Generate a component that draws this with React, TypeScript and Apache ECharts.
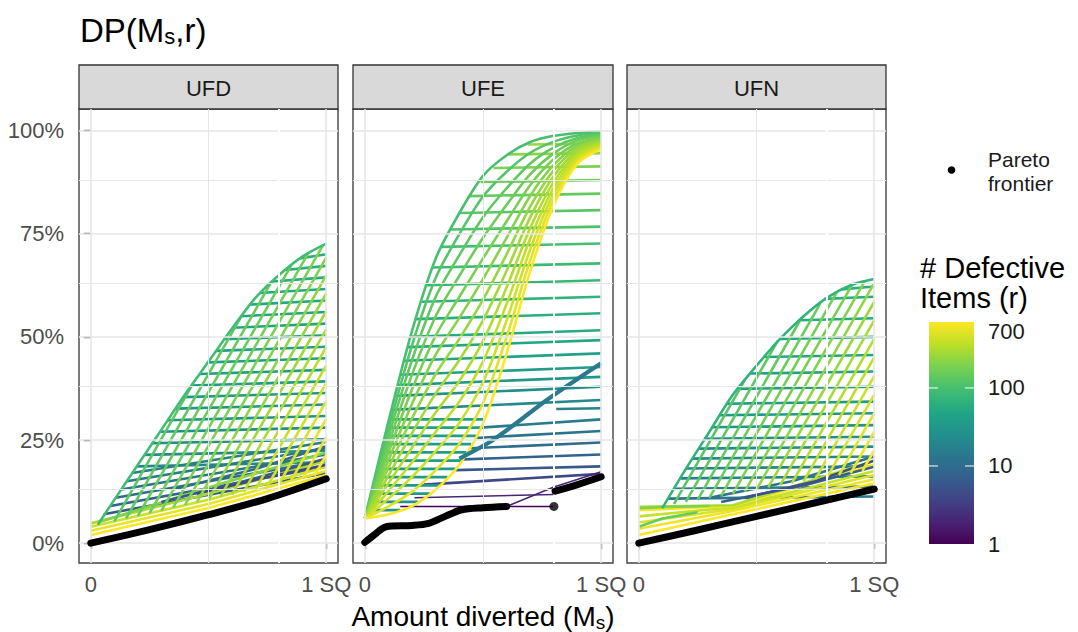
import React, { useEffect, useRef } from 'react';
import * as echarts from 'echarts';

const FONT = '"Liberation Sans", Arial, Helvetica, sans-serif';

// ---------- data ----------
const facets = ['UFD', 'UFE', 'UFN'];
const xTickValues = [0, 1];
const xTickLabels = ['0', '1 SQ'];
const yTickValues = [0, 0.25, 0.5, 0.75, 1];
const yMinorValues = [0.125, 0.375, 0.625, 0.875];
const xMinorValues = [0.5];
const legendBreaks = [1, 10, 100, 700];
const gapX = 0.8;

// UFE: diagonal curves sampled at these x
const ufeCurveX = [0, 0.1, 0.2, 0.3, 0.4, 0.5, 0.6, 0.7, 0.8, 0.9, 1];
const ufeCurveR = [100, 118, 138, 160, 185, 212, 245, 280, 320, 370, 430, 520, 700];
const ufeCurves = [
  [0.06, 0.295, 0.515, 0.69, 0.80, 0.89, 0.94, 0.972, 0.987, 0.994, 0.997],
  [0.06, 0.276, 0.48, 0.643, 0.749, 0.84, 0.90, 0.946, 0.973, 0.988, 0.994],
  [0.06, 0.258, 0.444, 0.597, 0.698, 0.79, 0.86, 0.92, 0.959, 0.982, 0.99],
  [0.06, 0.239, 0.409, 0.55, 0.648, 0.74, 0.82, 0.894, 0.945, 0.976, 0.987],
  [0.06, 0.22, 0.373, 0.503, 0.597, 0.69, 0.78, 0.868, 0.931, 0.969, 0.983],
  [0.06, 0.201, 0.338, 0.457, 0.546, 0.64, 0.74, 0.842, 0.917, 0.963, 0.98],
  [0.06, 0.183, 0.303, 0.41, 0.495, 0.59, 0.70, 0.816, 0.904, 0.957, 0.976],
  [0.06, 0.164, 0.267, 0.363, 0.444, 0.54, 0.66, 0.79, 0.89, 0.951, 0.973],
  [0.06, 0.145, 0.232, 0.317, 0.393, 0.49, 0.62, 0.764, 0.876, 0.945, 0.969],
  [0.06, 0.126, 0.196, 0.27, 0.343, 0.44, 0.58, 0.738, 0.862, 0.939, 0.966],
  [0.06, 0.108, 0.161, 0.223, 0.292, 0.39, 0.54, 0.712, 0.848, 0.932, 0.962],
  [0.06, 0.089, 0.125, 0.177, 0.241, 0.34, 0.50, 0.686, 0.834, 0.926, 0.959],
  [0.06, 0.07, 0.09, 0.13, 0.19, 0.29, 0.46, 0.66, 0.82, 0.92, 0.955],
];
// flat lines: [x0, y0, x1, y1, r]
const ufeFlats = [
  [0.69, 0.966, 1, 0.968, 250], [0.61, 0.942, 1, 0.945, 220], [0.545, 0.909, 1, 0.913, 190],
  [0.49, 0.875, 1, 0.88, 165], [0.44, 0.841, 1, 0.847, 145], [0.40, 0.80, 1, 0.807, 125],
  [0.364, 0.76, 1, 0.767, 110], [0.325, 0.718, 1, 0.726, 97], [0.287, 0.668, 1, 0.678, 86],
  [0.263, 0.625, 1, 0.637, 77], [0.24, 0.585, 1, 0.597, 69], [0.216, 0.543, 1, 0.557, 62],
  [0.193, 0.50, 1, 0.516, 55], [0.182, 0.475, 1, 0.492, 49], [0.167, 0.442, 1, 0.46, 43],
  [0.152, 0.408, 1, 0.427, 37], [0.14, 0.383, 1, 0.403, 31], [0.128, 0.357, 1, 0.379, 26],
  [0.112, 0.323, 1, 0.347, 21], [0.81, 0.325, 1, 0.327, 18],
  [0.49, 0.28, 1, 0.30, 15], [0.47, 0.255, 1, 0.272, 12], [0.445, 0.23, 1, 0.244, 10],
  [0.415, 0.203, 1, 0.215, 8], [0.385, 0.177, 1, 0.186, 6], [0.25, 0.142, 1, 0.168, 4],
  [0.21, 0.11, 0.8, 0.118, 2], [0.15, 0.089, 0.8, 0.089, 1],
  [0.009, 0.08, 0.15, 0.08, 30], [0.017, 0.10, 0.225, 0.10, 30], [0.026, 0.12, 0.275, 0.12, 32],
  [0.034, 0.14, 0.317, 0.14, 32], [0.043, 0.16, 0.35, 0.16, 34], [0.051, 0.18, 0.383, 0.18, 34],
  [0.06, 0.20, 0.41, 0.20, 36], [0.068, 0.22, 0.43, 0.22, 36], [0.077, 0.24, 0.45, 0.24, 38],
  [0.085, 0.26, 0.47, 0.26, 38], [0.094, 0.28, 0.49, 0.28, 40], [0.102, 0.30, 0.506, 0.30, 40],
];
const ufeThick = [[0.4, 0.205], [0.52, 0.242], [0.62, 0.282], [0.77, 0.347], [0.9, 0.398], [1, 0.436]];
const ufeThickR = 14;
const ufeRising = [[0.6, 0.089], [0.8, 0.136], [1, 0.173]];
const ufeRisingR = 2;
const ufePareto = [[0, 0.002], [0.04, 0.02], [0.09, 0.04], [0.2, 0.043], [0.27, 0.048], [0.34, 0.065], [0.41, 0.081], [0.5, 0.086], [0.6, 0.089]];
const ufeParetoTail = [[0.805, 0.126], [0.9, 0.142], [1, 0.161]];
const ufeParetoDot = [[0.8, 0.089]];

// UFD
const ufdTop = [[0.03, 0.045], [0.1, 0.105], [0.2, 0.19], [0.3, 0.275], [0.4, 0.36], [0.5, 0.44], [0.6, 0.52], [0.7, 0.595], [0.8, 0.65], [0.9, 0.695], [1, 0.726]];
const ufdTopR = 90;
const ufdSlants = [
  [0.10, 0.053, 0.435, 0.388, 130], [0.15, 0.06, 0.64, 0.55, 140], [0.20, 0.066, 0.764, 0.63, 150],
  [0.25, 0.073, 0.85, 0.672, 160], [0.30, 0.079, 0.923, 0.702, 175], [0.35, 0.086, 0.986, 0.7215, 190],
  [0.40, 0.092, 1, 0.692, 205], [0.45, 0.099, 1, 0.649, 225], [0.50, 0.105, 1, 0.605, 245],
  [0.55, 0.112, 1, 0.562, 270], [0.60, 0.118, 1, 0.518, 300], [0.65, 0.125, 1, 0.475, 340],
  [0.70, 0.131, 1, 0.431, 380], [0.75, 0.138, 1, 0.388, 430], [0.80, 0.144, 1, 0.344, 480],
  [0.85, 0.151, 1, 0.301, 540], [0.90, 0.157, 1, 0.257, 610], [0.95, 0.164, 1, 0.214, 700],
];
const ufdFlats = [
  [0.889, 0.69, 1, 0.70, 60], [0.827, 0.662, 1, 0.672, 57], [0.771, 0.634, 1, 0.644, 54],
  [0.715, 0.606, 1, 0.616, 51], [0.677, 0.578, 1, 0.588, 48], [0.637, 0.55, 1, 0.56, 46],
  [0.602, 0.522, 1, 0.532, 44], [0.568, 0.494, 1, 0.504, 42], [0.533, 0.466, 1, 0.476, 40],
  [0.498, 0.438, 1, 0.448, 38], [0.463, 0.41, 1, 0.42, 36], [0.428, 0.382, 1, 0.392, 34],
  [0.393, 0.354, 1, 0.364, 32], [0.36, 0.326, 1, 0.336, 30], [0.327, 0.298, 1, 0.308, 28],
  [0.294, 0.27, 1, 0.28, 26], [0.261, 0.242, 1, 0.252, 24], [0.228, 0.214, 1, 0.224, 22],
  [0.195, 0.186, 1, 0.196, 20],
  [0.176, 0.17, 1, 0.245, 16], [0.153, 0.15, 1, 0.23, 14], [0.129, 0.13, 1, 0.215, 12],
  [0.106, 0.11, 1, 0.20, 10], [0.083, 0.09, 1, 0.185, 8], [0.055, 0.07, 1, 0.17, 6],
];
const ufdBottom = [
  { r: 700, pts: [[0, 0.02], [0.5, 0.085], [1, 0.165]] },
  { r: 550, pts: [[0, 0.03], [0.5, 0.095], [1, 0.175]] },
  { r: 420, pts: [[0, 0.04], [0.5, 0.105], [1, 0.185]] },
  { r: 300, pts: [[0, 0.048], [0.5, 0.12], [1, 0.2]] },
  { r: 200, pts: [[0.03, 0.05], [0.5, 0.135], [1, 0.22]] },
  { r: 6, pts: [[0.3, 0.1], [0.65, 0.15], [1, 0.205]] },
  { r: 4, pts: [[0.45, 0.12], [0.75, 0.16], [1, 0.19]] },
  { r: 10, pts: [[0.35, 0.13], [0.7, 0.18], [1, 0.235]] },
];
const ufdPareto = [[0, 0], [0.25, 0.033], [0.5, 0.069], [0.75, 0.108], [1, 0.156]];

// UFN
const ufnTop = [[0.1, 0.085], [0.2, 0.18], [0.3, 0.27], [0.4, 0.36], [0.5, 0.43], [0.6, 0.495], [0.7, 0.55], [0.8, 0.595], [0.9, 0.625], [1, 0.64]];
const ufnTopR = 70;
const ufnSlants = [
  [0.15, 0.095, 0.45, 0.395, 120], [0.20, 0.10, 0.59, 0.49, 130], [0.25, 0.105, 0.69, 0.545, 140],
  [0.30, 0.11, 0.77, 0.58, 155], [0.35, 0.115, 0.84, 0.607, 170], [0.40, 0.12, 0.91, 0.63, 185],
  [0.45, 0.125, 0.96, 0.635, 205], [0.50, 0.13, 1, 0.63, 230], [0.55, 0.135, 1, 0.585, 260],
  [0.60, 0.14, 1, 0.54, 290], [0.65, 0.145, 1, 0.495, 330], [0.70, 0.15, 1, 0.45, 370],
  [0.75, 0.155, 1, 0.405, 420], [0.80, 0.16, 1, 0.36, 470], [0.85, 0.165, 1, 0.315, 530],
  [0.90, 0.17, 1, 0.27, 600], [0.95, 0.175, 1, 0.225, 700],
];
const ufnFlats = [
  [0.86, 0.615, 1, 0.622, 62], [0.79, 0.592, 1, 0.597, 58], [0.68, 0.54, 1, 0.545, 54],
  [0.60, 0.495, 1, 0.50, 50], [0.53, 0.451, 1, 0.456, 46], [0.47, 0.411, 1, 0.416, 42],
  [0.42, 0.374, 1, 0.379, 38], [0.375, 0.338, 1, 0.343, 35], [0.345, 0.31, 1, 0.315, 32],
  [0.312, 0.281, 1, 0.286, 29], [0.28, 0.253, 1, 0.258, 26], [0.255, 0.229, 1, 0.234, 23],
  [0.226, 0.205, 1, 0.21, 21], [0.20, 0.181, 1, 0.186, 19], [0.176, 0.157, 1, 0.162, 17],
  [0.15, 0.132, 1, 0.137, 15], [0.124, 0.108, 1, 0.113, 13],
];
const ufnBottom = [
  { r: 700, pts: [[0, 0.02], [0.4, 0.07], [1, 0.145]] },
  { r: 600, pts: [[0, 0.035], [0.4, 0.078], [1, 0.155]] },
  { r: 500, pts: [[0, 0.05], [0.4, 0.083], [1, 0.165]] },
  { r: 400, pts: [[0, 0.065], [0.4, 0.087], [1, 0.175]] },
  { r: 650, pts: [[0, 0.08], [0.4, 0.09], [1, 0.19]] },
  { r: 300, pts: [[0, 0.088], [0.4, 0.092], [1, 0.2]] },
  { r: 200, pts: [[0, 0.085], [0.12, 0.088], [0.3, 0.09]] },
  { r: 150, pts: [[0, 0.04], [0.1, 0.06], [0.25, 0.075]] },
  { r: 8, pts: [[0.35, 0.1], [0.7, 0.14], [1, 0.185]] },
  { r: 5, pts: [[0.45, 0.11], [0.75, 0.15], [1, 0.2]] },
  { r: 12, pts: [[0.3, 0.11], [0.65, 0.15], [1, 0.21]] },
];
const ufnPareto = [[0, 0], [0.25, 0.032], [0.5, 0.065], [0.75, 0.098], [1, 0.131]];

// ---------- styling helpers ----------
const VIRIDIS = ['#440154', '#482475', '#414487', '#355f8d', '#2a788e', '#21918c', '#22a884', '#44bf70', '#7ad151', '#bddf26', '#fde725'];
function hexRgb(h: string) {
  return [parseInt(h.slice(1, 3), 16), parseInt(h.slice(3, 5), 16), parseInt(h.slice(5, 7), 16)];
}
function viridis(t: number) {
  const c = Math.max(0, Math.min(1, t)) * (VIRIDIS.length - 1);
  const i = Math.min(Math.floor(c), VIRIDIS.length - 2);
  const f = c - i;
  const a = hexRgb(VIRIDIS[i]);
  const b = hexRgb(VIRIDIS[i + 1]);
  return 'rgb(' + a.map((v, k) => Math.round(v + (b[k] - v) * f)).join(',') + ')';
}
const rColor = (r: number) => viridis(Math.log(r) / Math.log(700));

const GRIDS = [
  { left: 79, top: 109, width: 259, height: 454 },
  { left: 353, top: 109, width: 260, height: 454 },
  { left: 627, top: 109, width: 259, height: 454 },
];
const STRIP_TOP = 65;
const STRIP_H = 44;
const LW = 2.6;

function buildOption() {
  const series: any[] = [];
  const add = (g: number, pts: number[][], color: string, width: number, z: number, smooth: any = false) => {
    series.push({
      type: 'line', xAxisIndex: g, yAxisIndex: g, data: pts, symbol: 'none', showSymbol: false,
      smooth, silent: true, z, animation: false, emphasis: { disabled: true },
      lineStyle: { color, width, cap: 'butt', join: 'round' },
    });
  };
  const addSeg = (g: number, seg: number[], width: number, z: number) =>
    add(g, [[seg[0], seg[1]], [seg[2], seg[3]]], rColor(seg[4]), width, z);

  facets.forEach((_, g) => {
    const mk = (axis: 'xAxis' | 'yAxis', v: number, w: number) => ({ [axis]: v, lineStyle: { width: w, color: '#e6e6e6', type: 'solid' } });
    series.push({
      type: 'line', xAxisIndex: g, yAxisIndex: g, data: [], z: 1, silent: true,
      markLine: {
        silent: true, symbol: ['none', 'none'], label: { show: false }, animation: false,
        lineStyle: { type: 'solid', color: '#e6e6e6' },
        data: [
          ...xTickValues.map((v) => mk('xAxis', v, 1.6)),
          ...xMinorValues.map((v) => mk('xAxis', v, 1)),
          ...yTickValues.map((v) => mk('yAxis', v, 1.6)),
          ...yMinorValues.map((v) => mk('yAxis', v, 1)),
        ],
      },
    });
    series.push({
      type: 'line', xAxisIndex: g, yAxisIndex: g, data: [], z: 4, silent: true,
      markLine: {
        silent: true, symbol: ['none', 'none'], label: { show: false }, animation: false,
        data: [{ xAxis: gapX, lineStyle: { type: 'solid', color: '#ffffff', width: 2 } }],
      },
    });
  });

  // UFD (g=0)
  ufdFlats.forEach((s) => addSeg(0, s, LW, 2));
  ufdBottom.forEach((b) => add(0, b.pts, rColor(b.r), LW, 2));
  ufdSlants.forEach((s) => addSeg(0, s, LW, 3));
  add(0, ufdTop, rColor(ufdTopR), LW, 3, 0.3);
  add(0, ufdPareto, '#000', 7, 5, 0.3);

  // UFE (g=1)
  ufeFlats.forEach((s) => addSeg(1, s, s[4] <= 2 ? 1.5 : LW, 2));
  ufeCurves.forEach((ys, i) => add(1, ys.map((y, k) => [ufeCurveX[k], y]), rColor(ufeCurveR[i]), LW, 3, 0.3));
  add(1, ufeThick, rColor(ufeThickR), 4.2, 3, 0.3);
  add(1, ufeRising, rColor(ufeRisingR), 1.5, 3);
  add(1, ufePareto, '#000', 7, 5, 0.3);
  add(1, ufeParetoTail, '#000', 7, 5, 0.3);
  series.push({
    type: 'scatter', xAxisIndex: 1, yAxisIndex: 1, data: ufeParetoDot, symbolSize: 9, silent: true, z: 5,
    itemStyle: { color: '#000' }, animation: false,
  });

  // UFN (g=2)
  ufnFlats.forEach((s) => addSeg(2, s, LW, 2));
  ufnBottom.forEach((b) => add(2, b.pts, rColor(b.r), LW, 2));
  ufnSlants.forEach((s) => addSeg(2, s, LW, 3));
  add(2, ufnTop, rColor(ufnTopR), LW, 3, 0.3);
  add(2, ufnPareto, '#000', 7, 5, 0.3);

  series.forEach((s) => {
    if (s.type === 'line' && s.lineStyle && s.lineStyle.color === '#000') s.lineStyle.cap = 'round';
  });

  const xAxis = facets.map((_, g) => ({
    type: 'value', gridIndex: g, min: -0.05, max: 1.05,
    axisLine: { show: false }, splitLine: { show: false },
    axisTick: { show: true, customValues: xTickValues, length: 6, lineStyle: { color: '#333', width: 1.3 } },
    axisLabel: {
      customValues: xTickValues, fontSize: 22, color: '#4d4d4d', fontFamily: FONT, margin: 10,
      formatter: (v: number) => { const i = xTickValues.indexOf(v); return i >= 0 ? xTickLabels[i] : ''; },
    },
  }));
  const yAxis = facets.map((_, g) => ({
    type: 'value', gridIndex: g, min: -0.048, max: 1.052,
    axisLine: { show: false }, splitLine: { show: false },
    axisTick: { show: g === 0, customValues: yTickValues, length: 7, lineStyle: { color: '#333', width: 1.3 } },
    axisLabel: {
      show: g === 0, customValues: yTickValues, fontSize: 22, color: '#4d4d4d', fontFamily: FONT, margin: 15,
      formatter: (v: number) => Math.round(v * 100) + '%',
    },
  }));

  const graphic: any[] = [];
  GRIDS.forEach((gr, g) => {
    graphic.push({
      type: 'rect', shape: { x: gr.left, y: STRIP_TOP, width: gr.width, height: STRIP_H },
      style: { fill: '#d9d9d9', stroke: '#333333', lineWidth: 1.3 }, silent: true,
    });
    graphic.push({
      type: 'text', x: gr.left + gr.width / 2, y: STRIP_TOP + STRIP_H / 2 + 1,
      style: { text: facets[g], fontSize: 22, fontFamily: FONT, fill: '#1a1a1a', align: 'center', verticalAlign: 'middle' },
      silent: true,
    });
  });
  graphic.push({
    type: 'text', x: 80, y: 30,
    style: {
      text: 'DP(M{s|s},r)', fontSize: 33, fontFamily: FONT, fill: '#000', align: 'left', verticalAlign: 'middle',
      rich: { s: { fontSize: 22, fontFamily: FONT, fill: '#000', padding: [12, 0, 0, 0] } },
    },
    silent: true,
  });
  graphic.push({
    type: 'text', x: 483, y: 616,
    style: {
      text: 'Amount diverted (M{s|s})', fontSize: 28, fontFamily: FONT, fill: '#000', align: 'center', verticalAlign: 'middle',
      rich: { s: { fontSize: 19, fontFamily: FONT, fill: '#000', padding: [13, 0, 0, 0] } },
    },
    silent: true,
  });
  // legend: pareto
  graphic.push({ type: 'circle', shape: { cx: 951.5, cy: 170, r: 3.8 }, style: { fill: '#000' }, silent: true });
  graphic.push({ type: 'text', x: 988, y: 159, style: { text: 'Pareto', fontSize: 21, fontFamily: FONT, fill: '#1a1a1a', align: 'left', verticalAlign: 'middle' }, silent: true });
  graphic.push({ type: 'text', x: 988, y: 183, style: { text: 'frontier', fontSize: 21, fontFamily: FONT, fill: '#1a1a1a', align: 'left', verticalAlign: 'middle' }, silent: true });
  // legend: colorbar
  graphic.push({ type: 'text', x: 920, y: 268, style: { text: '# Defective', fontSize: 29, fontFamily: FONT, fill: '#000', align: 'left', verticalAlign: 'middle' }, silent: true });
  graphic.push({ type: 'text', x: 920, y: 298, style: { text: 'Items (r)', fontSize: 29, fontFamily: FONT, fill: '#000', align: 'left', verticalAlign: 'middle' }, silent: true });
  const barX = 929, barW = 45, barTop = 322, barBottom = 544;
  const stops = VIRIDIS.map((_, i) => ({ offset: i / (VIRIDIS.length - 1), color: VIRIDIS[VIRIDIS.length - 1 - i] }));
  graphic.push({
    type: 'rect', shape: { x: barX, y: barTop, width: barW, height: barBottom - barTop },
    style: { fill: new echarts.graphic.LinearGradient(0, 0, 0, 1, stops) }, silent: true,
  });
  const logMax = Math.log10(700);
  legendBreaks.forEach((b) => {
    const y = barBottom - (Math.log10(b) / logMax) * (barBottom - barTop);
    if (b !== 1 && b !== 700) {
      graphic.push({ type: 'line', shape: { x1: barX, y1: y, x2: barX + 9, y2: y }, style: { stroke: '#fff', lineWidth: 1 }, silent: true });
      graphic.push({ type: 'line', shape: { x1: barX + barW - 9, y1: y, x2: barX + barW, y2: y }, style: { stroke: '#fff', lineWidth: 1 }, silent: true });
    }
    const ly = b === 700 ? y + 9 : y;
    graphic.push({ type: 'text', x: 988, y: ly, style: { text: String(b), fontSize: 22, fontFamily: FONT, fill: '#1a1a1a', align: 'left', verticalAlign: 'middle' }, silent: true });
  });

  return {
    animation: false,
    backgroundColor: '#ffffff',
    textStyle: { fontFamily: FONT },
    grid: GRIDS.map((gr) => ({ ...gr, show: true, backgroundColor: '#ffffff', borderColor: '#444444', borderWidth: 1.4, containLabel: false })),
    xAxis,
    yAxis,
    series,
    graphic,
  };
}

export default function App() {
  const ref = useRef<HTMLDivElement>(null);
  useEffect(() => {
    if (!ref.current) return;
    const chart = echarts.init(ref.current, undefined, { renderer: 'svg' });
    chart.setOption(buildOption() as any);
    return () => chart.dispose();
  }, []);
  return <div ref={ref} style={{ position: 'absolute', left: 0, top: 0, width: 1078, height: 632 }} />;
}
